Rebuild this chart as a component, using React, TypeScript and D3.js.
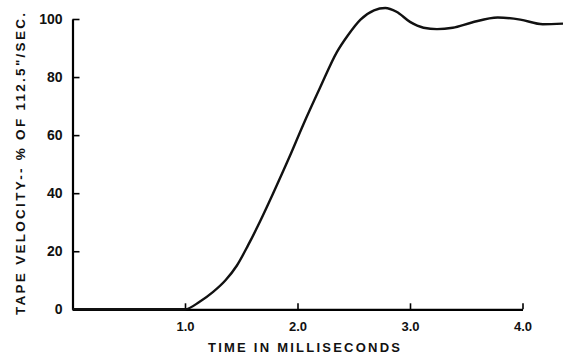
// Tape velocity vs time chart with D3
import React, { useEffect, useRef } from 'react';
import * as d3 from 'd3';

const timeMs = [0, 1.0, 1.13, 1.25, 1.36, 1.46, 1.56, 1.67, 1.79, 1.93, 2.05, 2.2, 2.35, 2.45, 2.56, 2.68, 2.78, 2.88, 3.0, 3.12, 3.24, 3.38, 3.55, 3.78, 3.98, 4.18, 4.36];
const velocity = [0, 0, 2.6, 6, 10, 15, 22, 30.5, 40.5, 52.6, 63.5, 76.3, 88.6, 94.5, 99.8, 103, 103.8, 102.5, 99, 97, 96.5, 97, 98.8, 100.5, 99.8, 98.2, 98.4];
const xTicks = [1, 2, 3, 4];
const yTicks = [0, 20, 40, 60, 80, 100];

const FONT = '"Liberation Sans", Arial, sans-serif';

const App = () => {
  const svgRef = useRef<SVGSVGElement>(null);

  useEffect(() => {
    if (!svgRef.current) return;
    const width = 563;
    const height = 355;
    const margin = { top: 19, right: 40.5, bottom: 45.7, left: 72.5 };

    const svg = d3.select(svgRef.current).attr('width', width).attr('height', height);
    svg.selectAll('*').remove();

    const x = d3.scaleLinear().domain([0, 4]).range([margin.left, width - margin.right]);
    const y = d3.scaleLinear().domain([0, 100]).range([height - margin.bottom, margin.top]);

    // x axis, ticks pointing up
    const gx = svg.append('g')
      .attr('transform', `translate(0,${y(0)})`)
      .call(d3.axisBottom(x).tickValues(xTicks).tickFormat(d3.format('.1f')).tickSizeInner(-6).tickSizeOuter(0).tickPadding(12));
    gx.select('.domain').attr('stroke-width', 2.2);
    gx.selectAll('.tick line').attr('stroke-width', 1.6);
    gx.selectAll('.tick text').attr('font-family', FONT).attr('font-size', 13).attr('font-weight', 'bold').attr('fill', '#111');

    // y axis, ticks pointing right
    const gy = svg.append('g')
      .attr('transform', `translate(${x(0)},0)`)
      .call(d3.axisLeft(y).tickValues(yTicks).tickSizeInner(-7).tickSizeOuter(0).tickPadding(10));
    gy.select('.domain').attr('stroke-width', 2.2);
    gy.selectAll('.tick line').attr('stroke-width', 1.6);
    gy.selectAll('.tick text').attr('font-family', FONT).attr('font-size', 14).attr('font-weight', 'bold').attr('fill', '#111');

    // curve
    const pts = timeMs.map((t, i) => [t, velocity[i]] as [number, number]);
    const line = d3.line<[number, number]>()
      .x(d => x(d[0]))
      .y(d => y(d[1]))
      .curve(d3.curveMonotoneX);
    svg.append('path')
      .datum(pts)
      .attr('d', line)
      .attr('fill', 'none')
      .attr('stroke', '#111')
      .attr('stroke-width', 2.4);

    // axis titles
    svg.append('text')
      .attr('x', 304)
      .attr('y', 352)
      .attr('text-anchor', 'middle')
      .attr('font-family', FONT)
      .attr('font-size', 13)
      .attr('font-weight', 'bold')
      .attr('fill', '#111')
      .attr('textLength', 192)
      .attr('lengthAdjust', 'spacing')
      .text('TIME IN MILLISECONDS');

    svg.append('text')
      .attr('transform', 'translate(25,164) rotate(-90)')
      .attr('text-anchor', 'middle')
      .attr('font-family', FONT)
      .attr('font-size', 13.5)
      .attr('font-weight', 'bold')
      .attr('fill', '#111')
      .attr('textLength', 302)
      .attr('lengthAdjust', 'spacing')
      .text('TAPE  VELOCITY-- % OF 112.5"/SEC.');
  }, []);

  return <svg ref={svgRef} style={{ position: 'absolute', left: 0, top: 0, background: '#fff' }} />;
};

export default App;
